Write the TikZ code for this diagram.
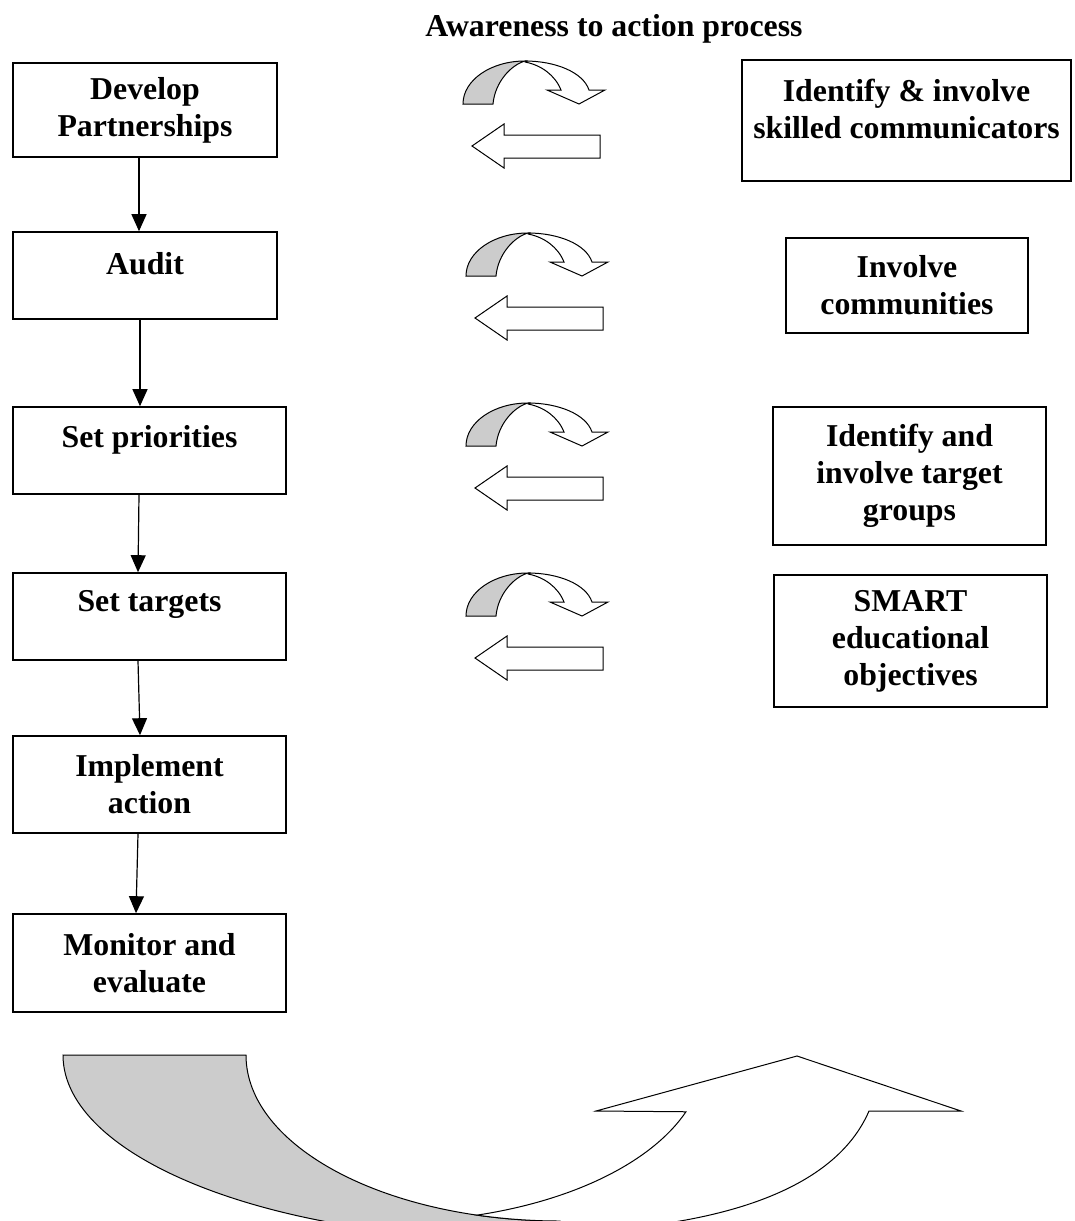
\documentclass[tikz,border=0pt]{standalone}
\usepackage{fontspec}
\setmainfont{Liberation Serif}
\usetikzlibrary{arrows.meta, positioning}
\definecolor{cback}{HTML}{CCCCCC}
\definecolor{cline}{HTML}{000000}

\begin{document}
\begin{tikzpicture}[
  x=1pt, y=-1pt,
  font=\fontsize{31.8}{37}\selectfont\bfseries,
  >={Triangle[length=17pt, width=15pt]},
  stagebox/.style={draw=cline, line width=1.6pt, align=center, inner sep=0pt,
               minimum width=273pt, minimum height=87pt},
  sidebox/.style={draw=cline, line width=1.6pt, align=center, inner sep=0pt},
  arr/.style={->, line width=1.2pt, draw=cline},
  turn/.style={draw=cline, line width=1pt},
  ]
\useasboundingbox (0,0) rectangle (1074,1221);

\node[anchor=base] (title) at (614,36) {Awareness to action process};

% stages down the left side
\node[stagebox, minimum width=264pt, minimum height=94pt] (dev) at (145,110) {Develop\\Partnerships};
\node[stagebox, minimum width=264pt, below=73.4pt of dev] (audit) {Audit\\[-12pt]\mbox{}};
\node[stagebox, below=86.4pt of audit, xshift=4.5pt] (prio) {Set priorities\\[-9pt]\mbox{}};
\node[stagebox, below=77.4pt of prio] (targ) {Set targets\\[-5pt]\mbox{}};
\node[stagebox, minimum height=97pt, below=74.4pt of targ] (impl) {Implement\\action};
\node[stagebox, minimum height=98pt, below=79.4pt of impl] (mon) {Monitor and\\evaluate};

% partners on the right
\node[sidebox, minimum width=329pt, minimum height=121pt] (comm) at (906.5,120.5) {Identify \& involve\\skilled communicators\\[-14pt]\mbox{}};
\node[sidebox, minimum width=242pt, minimum height=95pt] (cmty) at (907,285.5) {Involve\\communities};
\node[sidebox, minimum width=273pt, minimum height=138pt] (grp) at (909.5,476) {Identify and\\involve target\\groups};
\node[sidebox, minimum width=273pt, minimum height=132pt] (smart) at (910.5,641) {SMART\\educational\\objectives};

\draw[arr] ([xshift=-6pt]dev.south) -- ([xshift=-6pt]audit.north);
\draw[arr] ([xshift=-5pt]audit.south) -- ([xshift=-9.5pt]prio.north);
\draw[arr] ([xshift=-10.5pt]prio.south) -- ([xshift=-11.5pt]targ.north);
\draw[arr] ([xshift=-11.5pt]targ.south) -- ([xshift=-9.5pt]impl.north);
\draw[arr] ([xshift=-11.5pt]impl.south) -- ([xshift=-13.5pt]mon.north);

% two-way arrows between the columns
\foreach \ox/\oy in {437/48, 440/220, 440/390, 440/560}{
  \begin{scope}[shift={(\ox,\oy)}]
    \filldraw[turn, fill=cback] (26,56) .. controls (26,32) and (54,13) .. (88,13)
      .. controls (74,17) and (58,34) .. (56,56) -- cycle;
    \filldraw[turn, fill=white] (88,13) .. controls (118,13) and (146,24) .. (152,42)
      -- (168,42) -- (142,56) -- (110,42) -- (124,42)
      .. controls (118,27) and (104,17) .. (88,14) -- cycle;
    \filldraw[turn, fill=white] (35,98) -- (67,76) -- (67,87) -- (163,87)
      -- (163,110) -- (67,110) -- (67,120) -- cycle;
  \end{scope}
}

% big return arrow at the bottom
\begin{scope}
  \clip (0,0) rectangle (1074,1221);
  \filldraw[turn, fill=cback] (63,1055) -- (246,1055)
    arc[start angle=180, end angle=90, x radius=314, y radius=166]
    -- (520,1239) arc[start angle=90, end angle=180, x radius=457, y radius=184] -- cycle;
  \filldraw[turn, fill=white] (477.1,1215.1)
    arc[start angle=74, end angle=19.8, x radius=314, y radius=166]
    -- (596,1111) -- (797,1056) -- (961,1111) -- (869,1111)
    .. controls (835,1190) and (720,1228) .. (560,1232) -- (560,1221)
    arc[start angle=90, end angle=105.3, x radius=314, y radius=166] -- cycle;
\end{scope}
\end{tikzpicture}
\end{document}
